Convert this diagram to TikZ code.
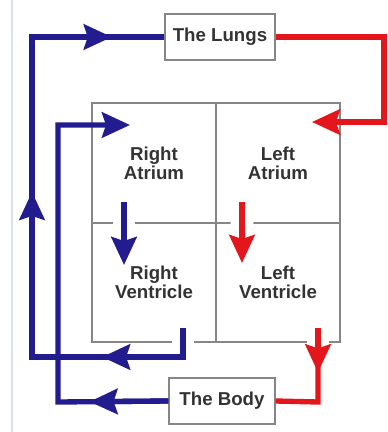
\documentclass[tikz,border=0pt]{standalone}
\usepackage{fontspec}
\setmainfont{Liberation Sans}
\usetikzlibrary{arrows.meta,calc}
\definecolor{Navy}{HTML}{221C8E}
\definecolor{Red}{HTML}{E3161B}
\definecolor{Wall}{HTML}{868686}
\definecolor{Ink}{HTML}{333333}
\definecolor{Edge}{HTML}{DCE0EC}

\tikzset{
  organ/.style={draw=Wall,line width=1.5pt,minimum height=34pt,inner sep=0pt,
    text=Ink,font=\fontsize{14}{14}\selectfont\bfseries},
  chamber/.style={draw=Wall,line width=1.5pt,minimum width=93pt,minimum height=89.6pt,
    inner sep=0pt,align=center,text=Ink,font=\fontsize{14}{14}\selectfont\bfseries},
  flow/.style={line width=4pt},
  flowtip/.style={-{Stealth[length=21pt,width=19pt,inset=3pt]}},
  gap/.style={draw=white,line width=17pt}
}

\begin{document}
\begin{tikzpicture}[x=0.75pt,y=-0.75pt]
  \useasboundingbox (0,0) rectangle (387,432);
  \draw[Edge,line width=1.2pt] (12,0) -- (12,432);

  % organs
  \node[organ,minimum width=83pt] (lungs) at (220,37) {The Lungs};
  \node[organ,minimum width=79pt] (body) at (222,401) {The Body};

  % heart
  \node[chamber] (ra) at (154,163) {Right\\Atrium};
  \node[chamber] (la) at (278,163) {Left\\Atrium};
  \node[chamber] (rv) at (154,282.5) {Right\\Ventricle};
  \node[chamber] (lv) at (278,282.5) {Left\\Ventricle};

  % route corners
  \coordinate (rvout) at (183,328);
  \coordinate (b1) at (183,357);
  \coordinate (b2) at (32,357);
  \coordinate (b3) at (32,37);
  \coordinate (r1) at (384,37);
  \coordinate (r2) at (384,122);
  \coordinate (lain) at (312,122);
  \coordinate (lvout) at (318,328);
  \coordinate (r3) at (318,402);
  \coordinate (v1) at (58,402);
  \coordinate (v2) at (58,125);
  \coordinate (rain) at (130,125);
  \coordinate (ratop) at (124,202);
  \coordinate (rvtop) at (124,265);
  \coordinate (latop) at (242,202);
  \coordinate (lvtop) at (242,263);

  \draw[gap] (rvout) -- (b1);
  \draw[gap] (lvout) -- (r3);
  \draw[gap] (ratop) -- ($(ratop)!0.8!(rvtop)$);
  \draw[gap] (latop) -- ($(latop)!0.8!(lvtop)$);

  % blue side
  \draw[flow,Navy] (rvout) -- (b1) -- (b2) -- (b3) -- (lungs.west);
  \draw[flow,Navy,flowtip] (b1) -- ($(b1)!0.536!(b2)$);
  \draw[flow,Navy,flowtip] (b2) -- ($(b2)!0.516!(b3)$);
  \draw[flow,Navy,flowtip] (b3) -- ($(b3)!0.606!(lungs.west)$);
  \draw[flow,Navy,flowtip] (body.west) -- (v1) -- (v2) -- (rain);
  \draw[flow,Navy,flowtip] (body.west) -- ($(body.west)!0.714!(v1)$);
  \draw[flow,Navy,flowtip] (ratop) -- (rvtop);

  % red side
  \draw[flow,Red,flowtip] (lungs.east) -- (r1) -- (r2) -- (lain);
  \draw[flow,Red] (lvout) -- (r3) -- (body.east);
  \draw[flow,Red,flowtip] (lvout) -- ($(lvout)!0.6!(r3)$);
  \draw[flow,Red,flowtip] (latop) -- (lvtop);
\end{tikzpicture}
\end{document}
